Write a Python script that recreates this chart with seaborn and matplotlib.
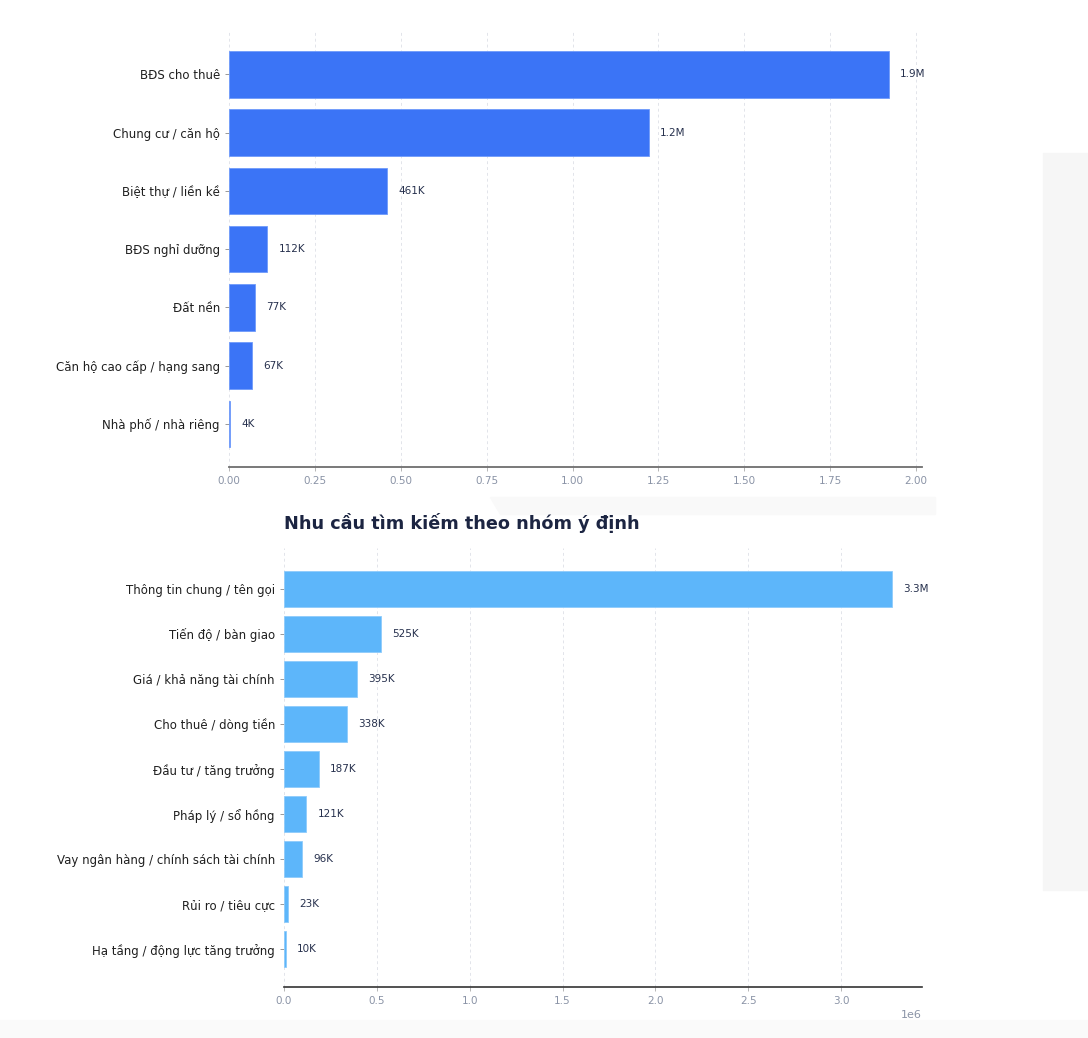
import numpy as np
import pandas as pd
import seaborn as sns
import matplotlib.pyplot as plt
from matplotlib.patches import Rectangle, Polygon

# top chart: loai hinh BDS
types = ['BĐS cho thuê', 'Chung cư / căn hộ', 'Biệt thự / liền kề', 'BĐS nghỉ dưỡng',
         'Đất nền', 'Căn hộ cao cấp / hạng sang', 'Nhà phố / nhà riêng']
type_vals = [1921000, 1222000, 461000, 112000, 77000, 67000, 4000]

# bottom chart: nhom y dinh
intents = ['Thông tin chung / tên gọi', 'Tiến độ / bàn giao', 'Giá / khả năng tài chính',
           'Cho thuê / dòng tiền', 'Đầu tư / tăng trưởng', 'Pháp lý / sổ hồng',
           'Vay ngân hàng / chính sách tài chính', 'Rủi ro / tiêu cực',
           'Hạ tầng / động lực tăng trưởng']
intent_vals = [3272000, 525000, 395000, 338000, 187000, 121000, 96000, 23000, 10000]

sns.set_style('white')
plt.rcParams['font.family'] = ['DejaVu Sans']


def fmt(v):
    if v >= 1e6:
        return '{:.1f}M'.format(v / 1e6)
    return '{:.0f}K'.format(v / 1e3)


fig = plt.figure(figsize=(10.88, 10.38), dpi=100)

# faint background shapes from the page behind the chart
bg = '#f6f6f6'
fig.patches.append(Rectangle((1043 / 1088, 1 - 890 / 1038), 45 / 1088, 737 / 1038,
                             transform=fig.transFigure, color=bg, zorder=-10))
fig.patches.append(Polygon([(490 / 1088, 1 - 497 / 1038), (935 / 1088, 1 - 497 / 1038),
                            (935 / 1088, 1 - 514 / 1038), (500 / 1088, 1 - 514 / 1038)],
                           transform=fig.transFigure, color='#f9f9f9', zorder=-10))
fig.patches.append(Rectangle((0, 0), 1, 18 / 1038, transform=fig.transFigure,
                             color='#fafafa', zorder=-10))

ax1 = fig.add_axes([229 / 1088, 1 - 467 / 1038, 693 / 1088, 437 / 1038])
ax2 = fig.add_axes([284 / 1088, 1 - 987 / 1038, 638 / 1088, 439 / 1038])

df1 = pd.DataFrame({'type': types, 'value': type_vals})
df2 = pd.DataFrame({'intent': intents, 'value': intent_vals})

sns.barplot(data=df1, x='value', y='type', color='#3b74f6', saturation=1,
            width=0.8, ax=ax1, edgecolor='#6f9bfa', linewidth=0.6)
sns.barplot(data=df2, x='value', y='intent', color='#5db6fa', saturation=1,
            width=0.8, ax=ax2, edgecolor='#8fcbfb', linewidth=0.6)

ax1.set_ylim(6.74, -0.76)
ax2.set_ylim(8.84, -0.91)

for ax, vals in [(ax1, type_vals), (ax2, intent_vals)]:
    for i, v in enumerate(vals):
        ax.annotate(fmt(v), (v, i), xytext=(8, 0), textcoords='offset points',
                    va='center', ha='left', fontsize=7.5, color='#26304d')
    ax.set_xlabel('')
    ax.set_ylabel('')
    ax.grid(axis='x', linestyle=(0, (3, 3)), color='#e2e4ea', linewidth=0.7)
    ax.set_axisbelow(True)
    sns.despine(ax=ax, left=True, top=True, right=True)
    ax.tick_params(axis='y', labelsize=8.5, labelcolor='#1f1f1f', length=3,
                   color='#888888', left=True, width=0.6)
    ax.tick_params(axis='x', labelsize=7.5, labelcolor='#8a93a6', length=3,
                   color='#aaaaaa', bottom=True, width=0.6)

ax1.spines['bottom'].set_color('#6e6e6e')
ax1.spines['bottom'].set_linewidth(1.3)
ax2.spines['bottom'].set_color('#333333')
ax2.spines['bottom'].set_linewidth(1.2)

ax1.xaxis.offsetText.set_visible(False)
ax2.xaxis.offsetText.set_fontsize(8)
ax2.xaxis.offsetText.set_color('#8a93a6')

ax2.set_title('Nhu cầu tìm kiếm theo nhóm ý định', loc='left', fontsize=12.7,
              fontweight='bold', color='#1c2542', pad=14)

plt.savefig('out.png', dpi=100)
